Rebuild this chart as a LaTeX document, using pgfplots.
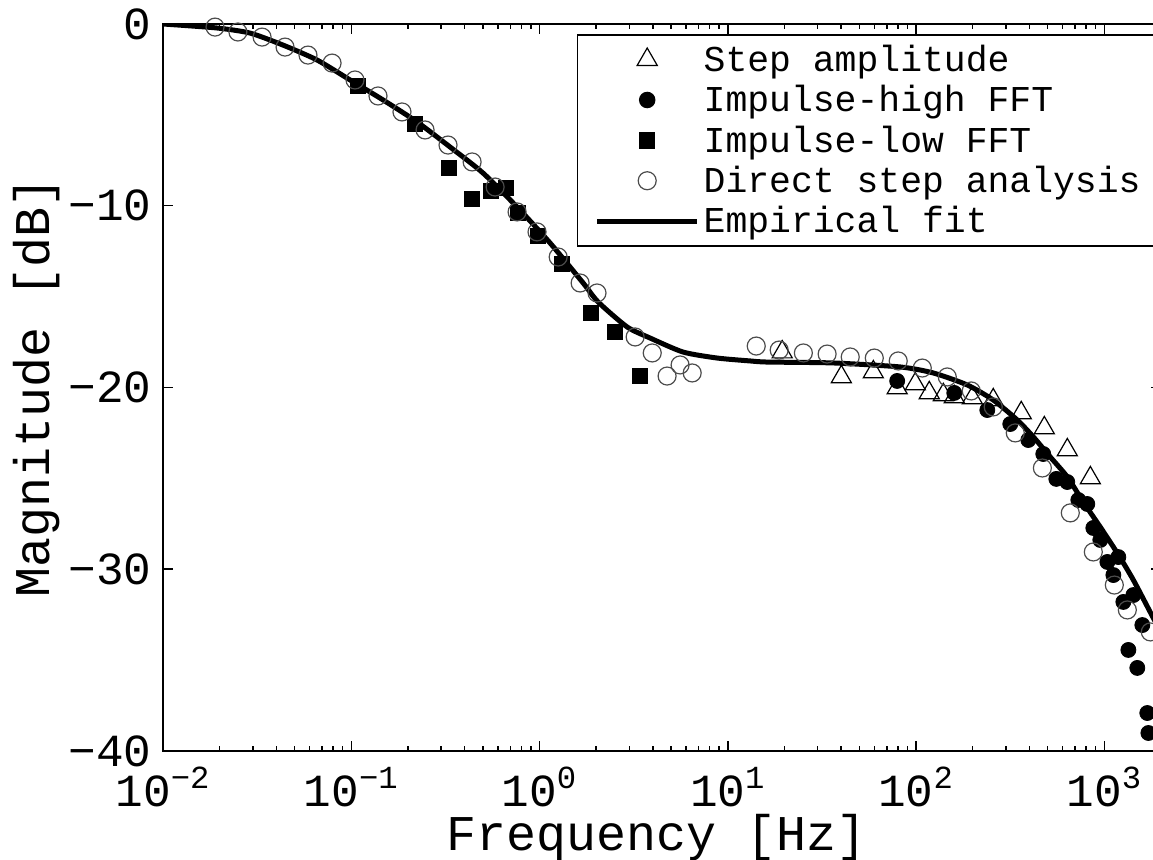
\documentclass[border=0pt]{standalone}
\usepackage{fontspec}
\setmainfont{Liberation Mono}
\usepackage{pgfplots}
\usepackage{pgfplotstable}
\pgfplotsset{compat=1.18}

\pgfplotstableread{
f db
19.45 -18.05
40.1 -19.42
59.3 -19.15
79.4 -20.03
99.1 -19.81
117.5 -20.30
139.6 -20.41
159.6 -20.52
199 -20.58
257 -20.69
362 -21.40
480 -22.23
636 -23.44
843 -24.98
}\steptab

\pgfplotstableread{
f db
79.4 -19.64
159.6 -20.30
239 -21.24
316.6 -22.01
394.7 -22.89
474 -23.66
556 -25.03
635.6 -25.20
727.8 -26.19
812 -26.41
874 -27.73
952 -28.39
1038 -29.60
1117 -30.32
1187 -29.33
1262 -31.80
1426 -31.42
1592 -33.07
1342 -34.44
1497 -35.43
1691 -37.91
1714 -39.01
}\hightab

\pgfplotstableread{
f db
0.1086 -3.41
0.2183 -5.50
0.331 -7.92
0.4385 -9.63
0.553 -9.19
0.666 -9.02
0.769 -10.40
0.984 -11.66
1.318 -13.20
1.88 -15.90
2.52 -16.95
3.42 -19.37
}\lowtab

\pgfplotstableread{
f db
0.0189 -0.17
0.0250 -0.44
0.0336 -0.72
0.0445 -1.27
0.0589 -1.71
0.0791 -2.15
0.1047 -3.08
0.1387 -3.96
0.186 -4.84
0.2466 -5.83
0.3266 -6.66
0.4385 -7.59
0.581 -8.97
0.760 -10.34
0.970 -11.44
1.256 -12.82
1.643 -14.25
2.02 -14.80
3.22 -17.22
3.97 -18.10
4.76 -19.37
5.58 -18.76
6.47 -19.20
14.16 -17.72
18.75 -17.94
25.2 -18.10
33.7 -18.16
44.7 -18.32
60.0 -18.38
80.4 -18.54
107.9 -18.93
146.5 -19.42
196.4 -20.19
257 -21.07
336.5 -22.50
468.7 -24.43
659.6 -26.90
874 -29.05
1130 -30.87
1325 -32.24
1755 -33.45
}\directtab

\pgfplotstableread{
f db
0.01 0
0.01936 -0.22
0.0290 -0.50
0.0434 -1.16
0.0658 -1.98
0.0986 -3.08
0.1476 -4.18
0.2237 -5.39
0.335 -6.77
0.501 -8.20
0.760 -10.07
1.138 -12.05
1.705 -14.25
2.05 -15.30
2.92 -16.67
3.87 -17.28
5.79 -18.05
8.79 -18.38
13.15 -18.54
16.2 -18.60
36.3 -18.65
82.4 -18.87
123.4 -19.20
187 -19.86
257 -20.69
345 -21.79
420 -22.72
516 -23.82
636 -24.92
773 -26.30
952 -27.68
1172 -29.11
1426 -30.59
1820 -32.68
2000 -33.45
}\fittab

\begin{document}
\begin{tikzpicture}
\begin{axis}[
  scale only axis,
  width=499pt, height=363.5pt,
  xmode=log,
  xmin=0.01, xmax=2000,
  ymin=-40, ymax=0,
  axis line style={line width=0.75pt},
  every tick/.style={black, line width=0.75pt},
  major tick length=5pt,
  minor tick length=2.5pt,
  xtick={0.01,0.1,1,10,100,1000},
  xticklabels={10\textsuperscript{−2},10\textsuperscript{−1},10\textsuperscript{0},10\textsuperscript{1},10\textsuperscript{2},10\textsuperscript{3}},
  ytick={0,-10,-20,-30,-40},
  yticklabels={0,−10,−20,−30,−40},
  tick label style={font=\fontsize{23}{27}\selectfont},
  xticklabel style={anchor=base, inner sep=0pt, yshift=-28pt},
  yticklabel style={anchor=east, inner sep=0pt, xshift=-5.5pt},
  xlabel={Frequency [Hz]},
  ylabel={Magnitude [dB]},
  every axis x label/.style={at={(axis description cs:0.495,-0.1375)}, anchor=base, inner sep=0pt, font=\fontsize{25}{30}\selectfont},
  every axis y label/.style={at={(axis description cs:-0.127,0.5)}, anchor=center, rotate=90, font=\fontsize{25}{30}\selectfont},
  legend image code/.code={\draw[mark repeat=2,mark phase=2,#1] plot coordinates {(0pt,0pt) (25pt,0pt) (50pt,0pt)};},
  legend cell align=left,
  legend style={at={(axis description cs:0.4148,0.986)}, anchor=north west,
    draw=black, line width=0.75pt, font=\fontsize{18.2}{21}\selectfont,
    inner xsep=8.5pt, inner ysep=3pt, row sep=1.5pt},
]
\addplot[only marks, mark=triangle, mark size=5.8pt, mark options={draw=black, line width=0.6pt}] table[x=f,y=db] {\steptab};
\addlegendentry{Step amplitude}
\addplot[only marks, mark=*, mark size=3.75pt, mark options={fill=black, draw=black}] table[x=f,y=db] {\hightab};
\addlegendentry{Impulse-high FFT}
\addplot[only marks, mark=square*, mark size=3.75pt, mark options={fill=black, draw=black}] table[x=f,y=db] {\lowtab};
\addlegendentry{Impulse-low FFT}
\addplot[only marks, mark=o, mark size=4.5pt, mark options={draw=black!70, line width=0.6pt}] table[x=f,y=db] {\directtab};
\addlegendentry{Direct step analysis}
\addplot[black, line width=2.5pt, smooth, tension=0.4] table[x=f,y=db] {\fittab};
\addlegendentry{Empirical fit}
\end{axis}
\pgfresetboundingbox
\useasboundingbox (-81.5pt,-54.5pt) rectangle (495pt,375.5pt);
\end{tikzpicture}
\end{document}
